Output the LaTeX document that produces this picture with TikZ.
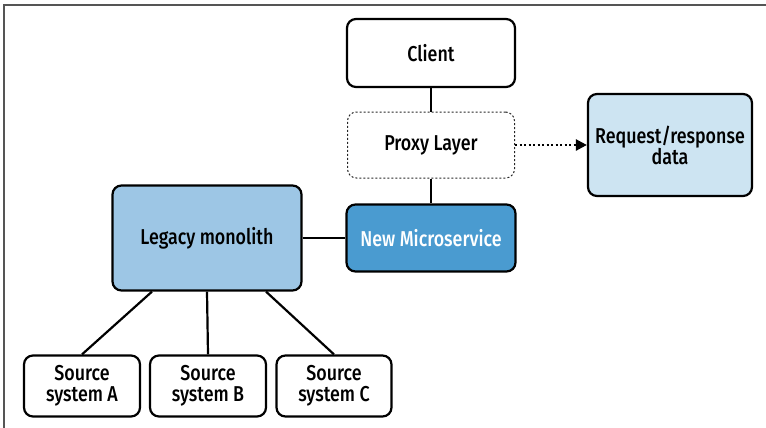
\documentclass[tikz,border=0pt]{standalone}
\usepackage{fontspec}
\setmainfont{Fira Sans Medium}[FakeStretch=0.83]
\usetikzlibrary{arrows.meta}
\definecolor{legacyblue}{HTML}{9DC6E5}
\definecolor{microblue}{HTML}{4A9BD0}
\definecolor{datablue}{HTML}{CDE4F2}
\definecolor{framegray}{HTML}{555555}
\tikzset{
  box/.style={draw=black, line width=2.2pt, rounded corners=9pt, align=center,
    inner sep=0pt, font=\fontsize{21.5}{21}\selectfont},
  proxybox/.style={box, draw=black!85, line width=1pt, dash pattern=on 2pt off 2pt},
  link/.style={draw=black, line width=2.2pt},
}
\begin{document}
\begin{tikzpicture}[x=1pt,y=-1pt]
\useasboundingbox (0,0) rectangle (766,428);
% page frame
\draw[framegray, line width=1.5pt] (4,428) -- (4,5) -- (766,5);

% nodes
\node[box, minimum width=168pt, minimum height=68pt] (client) at (431,53) {Client};
\node[proxybox, minimum width=167pt, minimum height=66pt] (proxy) at (431,145) {Proxy Layer};
\node[box, fill=datablue, minimum width=164pt, minimum height=102pt] (data) at (670,145) {Request/response\\data};
\node[box, fill=microblue, text=white, minimum width=169pt, minimum height=67pt] (micro) at (431,238) {New Microservice};
\node[box, fill=legacyblue, minimum width=189pt, minimum height=105pt] (legacy) at (207,238) {Legacy monolith};
\node[box, minimum width=116pt, minimum height=61pt] (srcA) at (82,386) {Source\\system A};
\node[box, minimum width=116pt, minimum height=61pt] (srcB) at (208,386) {Source\\system B};
\node[box, minimum width=115pt, minimum height=61pt] (srcC) at (334,386) {Source\\system C};

% connectors
\draw[link] (client) -- (proxy);
\draw[link] (proxy) -- (micro);
\draw[link] (legacy) -- (micro);
\draw[link] (legacy.south -| 152,0) -- (srcA.north);
\draw[link] (legacy.south) -- (srcB.north);
\draw[link] (legacy.south -| 266,0) -- (srcC.north);
\draw[line width=2.4pt, dash pattern=on 2pt off 2.5pt, -{Triangle[length=11pt,width=11pt]}]
  (proxy) -- (data);
\end{tikzpicture}
\end{document}
